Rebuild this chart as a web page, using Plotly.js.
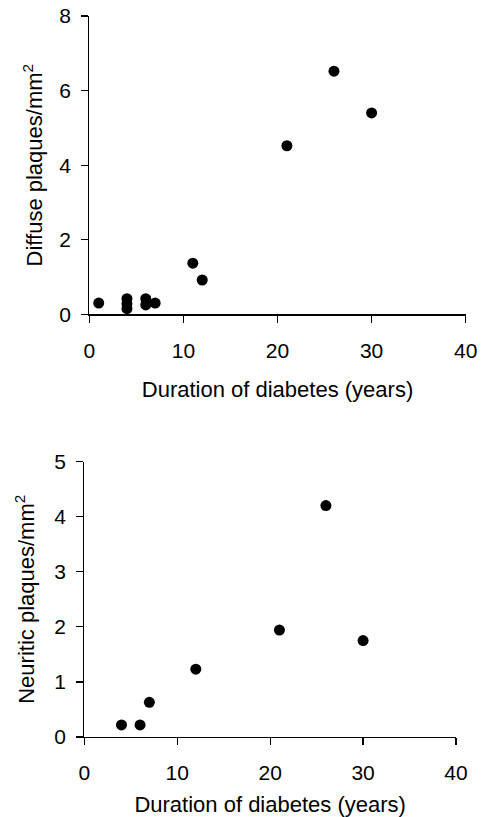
<!DOCTYPE html>
<html>
<head>
<meta charset="utf-8">
<script src="https://cdn.plot.ly/plotly-3.0.1.min.js"></script>
<style>html,body{margin:0;padding:0;background:#fff;}#chart{width:484px;height:817px;}</style>
</head>
<body>
<div id="chart"></div>
<script>
// Diffuse plaques vs duration
const diffuseDuration = [1, 4, 4, 4, 6, 6, 7, 11, 12, 21, 26, 30];
const diffusePlaques  = [0.30, 0.42, 0.28, 0.15, 0.42, 0.25, 0.30, 1.37, 0.92, 4.52, 6.52, 5.40];
// Neuritic plaques vs duration
const neuriticDuration = [4, 6, 7, 12, 21, 26, 30];
const neuriticPlaques  = [0.22, 0.22, 0.63, 1.23, 1.94, 4.20, 1.75];

const xTitle = 'Duration of diabetes (years)';
const yTitleTop = 'Diffuse plaques/mm<sup>2</sup>';
const yTitleBottom = 'Neuritic plaques/mm<sup>2</sup>';

const W = 484, H = 817;
const FONT = 'Arial, "Liberation Sans", sans-serif';

const marker = {color: '#000', size: 11, line: {width: 0}};
const traces = [
  {x: diffuseDuration, y: diffusePlaques, type: 'scatter', mode: 'markers', marker, xaxis: 'x', yaxis: 'y', cliponaxis: false, hoverinfo: 'none'},
  {x: neuriticDuration, y: neuriticPlaques, type: 'scatter', mode: 'markers', marker, xaxis: 'x2', yaxis: 'y2', cliponaxis: false, hoverinfo: 'none'}
];

function axisBase(extra) {
  return Object.assign({
    showline: true, linecolor: '#000', linewidth: 1.2,
    ticks: 'outside', ticklen: 7, tickwidth: 1.2, tickcolor: '#000',
    showgrid: false, zeroline: false, fixedrange: true,
    tickfont: {family: FONT, size: 21, color: '#000'}
  }, extra);
}

const layout = {
  width: W, height: H,
  margin: {l: 0, r: 0, t: 0, b: 0},
  paper_bgcolor: '#fff', plot_bgcolor: '#fff',
  showlegend: false,
  font: {family: FONT, color: '#000'},
  xaxis: axisBase({domain: [89.3 / W, 465.7 / W], range: [0, 40], dtick: 10, tick0: 0, anchor: 'y',
    ticklabelstandoff: 10,
    title: {text: xTitle, font: {family: FONT, size: 22, color: '#000'}, standoff: 20}}),
  yaxis: axisBase({domain: [1 - 314.3 / H, 1 - 16 / H], range: [0, 8], dtick: 2, tick0: 0, anchor: 'x',
    ticklabelstandoff: 6,
    title: {text: yTitleTop, font: {family: FONT, size: 22, color: '#000'}, standoff: 10}}),
  xaxis2: axisBase({domain: [84.3 / W, 456 / W], range: [0, 40], dtick: 10, tick0: 0, anchor: 'y2',
    ticklabelstandoff: 10,
    title: {text: xTitle, font: {family: FONT, size: 22, color: '#000'}, standoff: 16}}),
  yaxis2: axisBase({domain: [1 - 737 / H, 1 - 461.5 / H], range: [0, 5], dtick: 1, tick0: 0, anchor: 'x2',
    ticklabelstandoff: 6,
    title: {text: yTitleBottom, font: {family: FONT, size: 22, color: '#000'}, standoff: 13}})
};

Plotly.newPlot('chart', traces, layout, {staticPlot: true, displayModeBar: false});
</script>
</body>
</html>
